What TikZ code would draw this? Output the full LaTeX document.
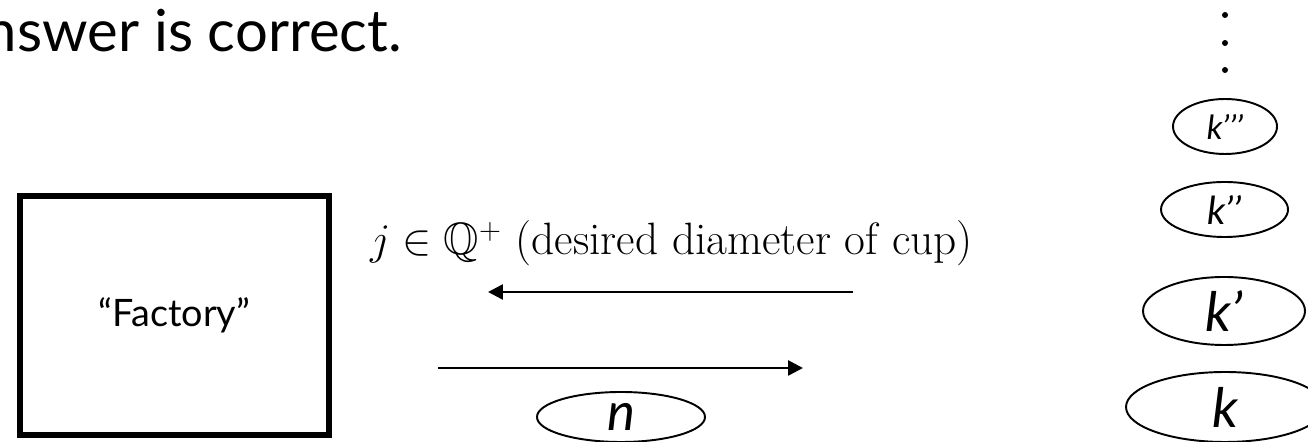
\documentclass[tikz,border=0pt]{standalone}
\usepackage{amssymb}
\usepackage{fontspec}
\setsansfont{Lato}
\usetikzlibrary{shapes.geometric,arrows.meta}
\begin{document}
\begin{tikzpicture}[>={Triangle[length=8.5pt,width=8.5pt]}, font=\sffamily]
        \tikzset{box/.style={draw, line width=3.1pt, minimum width=6.18cm, minimum height=4.78cm, align=center},
                 cup/.style={draw, ellipse, line width=1.1pt, inner sep=0pt, font=\sffamily\itshape},
                 flow/.style={->, line width=1.5pt}}
        \useasboundingbox (0,0) rectangle (26.16,8.84);
        \node[anchor=base east, font=\sffamily\fontsize{33}{36}\selectfont] (answer) at (8.16,7.80) {answer is correct.};
        \node[box, font=\sffamily\fontsize{21.5}{24}\selectfont] (factory) at (3.49,2.53) {“Factory”};
        \node[anchor=base west, font=\rmfamily\fontsize{25.8}{30}\selectfont] (order) at (7.28,3.74) {$j \in \mathbb{Q}^{+}$ (desired diameter of cup)};
        \coordinate (ordtail) at (17.06,3.00);
        \coordinate (ordhead) at (9.76,3.00);
        \coordinate (cuptail) at (8.76,1.48);
        \coordinate (cuphead) at (16.06,1.48);
        \draw[flow] (ordtail) -- (ordhead);
        \draw[flow] (cuptail) -- (cuphead);
        \node[cup, minimum width=3.36cm, minimum height=1.00cm, text depth=0pt] (n) at (12.42,0.50) {\fontsize{30}{32}\selectfont n};
        \node[cup, minimum width=3.96cm, minimum height=1.40cm] (k) at (24.50,0.70) {\fontsize{31}{34}\selectfont k};
        \node[cup, minimum width=3.24cm, minimum height=1.36cm] (k1) at (24.48,2.62) {\fontsize{31}{34}\selectfont k’};
        \node[cup, minimum width=2.54cm, minimum height=1.10cm] (k2) at (24.49,4.65) {\fontsize{22}{26}\selectfont k’’};
        \node[cup, minimum width=2.08cm, minimum height=1.10cm] (k3) at (24.50,6.31) {\fontsize{19}{22}\selectfont k’’’};
        \foreach \y in {8.54,7.98,7.44}
            \fill (24.50,\y) circle (0.06);
\end{tikzpicture}
\end{document}
